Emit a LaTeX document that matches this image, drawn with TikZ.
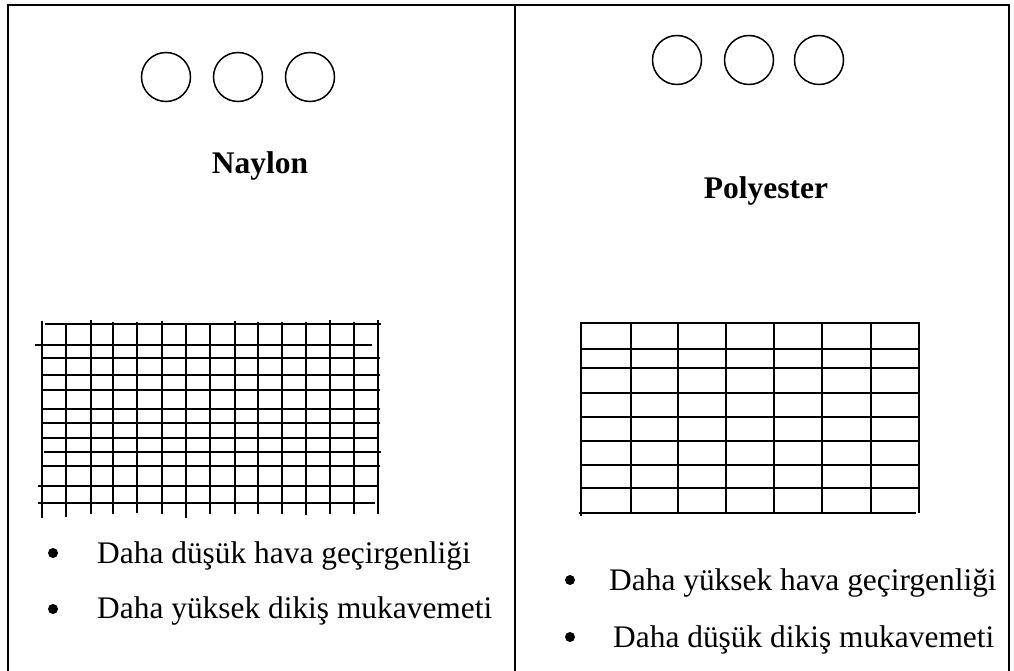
\documentclass[tikz,border=0pt]{standalone}
\usepackage{fontspec}
\setmainfont{Liberation Serif}
\begin{document}
\begin{tikzpicture}[x=1pt,y=-1pt,
  frame/.style={line width=2.4pt},
  gline/.style={line width=2pt},
  fibre/.style={circle, draw, line width=1.5pt, minimum size=49pt, inner sep=0pt},
  title/.style={font=\fontsize{31.5}{36}\selectfont\bfseries, inner sep=0pt},
  item/.style={font=\fontsize{31.4}{36}\selectfont, inner sep=0pt, anchor=base west},
  dot/.style={circle, fill, minimum size=10pt, inner sep=0pt}]
\useasboundingbox (0,0) rectangle (1014,671);
% frame
\draw[frame] (8,671) -- (8,5) -- (1009,5) -- (1009,671);
\draw[frame] (515,5) -- (515,671);
% fibre cross-sections
\node[fibre] (a1) at (166,77) {};
\node[fibre] (a2) at (238,77) {};
\node[fibre] (a3) at (310,77) {};
\node[fibre] (b1) at (677,60) {};
\node[fibre] (b2) at (749,60) {};
\node[fibre] (b3) at (819,60) {};
% titles
\node[title, anchor=base] (ta) at (260,174) {Naylon};
\node[title, anchor=base] (tb) at (766,199) {Polyester};
% nylon grid
\foreach \x/\t/\b in {42/321/518, 66/323/517, 91/320/514, 113/322/514, 137/322/513, 162/321/514, 186/323/518, 210/325/514, 235/321/514, 258/322/514, 282/322/514, 306/322/515, 330/320/514, 354/322/514, 378/320/514}
  \draw[gline] (\x,\t) -- (\x,\b);
\foreach \y/\l/\r in {324/45/381, 345/35/372, 358/42/380, 375/42/380, 390/42/380, 409/42/380, 423/42/380, 438/43/379, 452/44/381, 466/42/380, 486/38/378, 503/38/375}
  \draw[gline] (\l,\y) -- (\r,\y);
% polyester grid
\foreach \x/\b in {581/516, 631/513, 678/513, 726/513, 774/513, 822/513, 871/513, 919/513}
  \draw[gline] (\x,322) -- (\x,\b);
\foreach \y/\l/\r in {323/581/919, 349/581/919, 368/581/919, 393/581/919, 417/581/919, 441/581/919, 465/581/919, 488/581/919, 513/579/916}
  \draw[gline] (\l,\y) -- (\r,\y);
% bullet lists
\node[dot] (d1) at (53,553) {};
\node[item] (i1) at (97,563) {Daha düşük hava geçirgenliği};
\node[dot] (d2) at (53,609) {};
\node[item] (i2) at (97,618) {Daha yüksek dikiş mukavemeti};
\node[dot] (d3) at (570,580) {};
\node[item] (i3) at (609,590) {Daha yüksek hava geçirgenliği};
\node[dot] (d4) at (570,637) {};
\node[item] (i4) at (613,647) {Daha düşük dikiş mukavemeti};
\end{tikzpicture}
\end{document}
